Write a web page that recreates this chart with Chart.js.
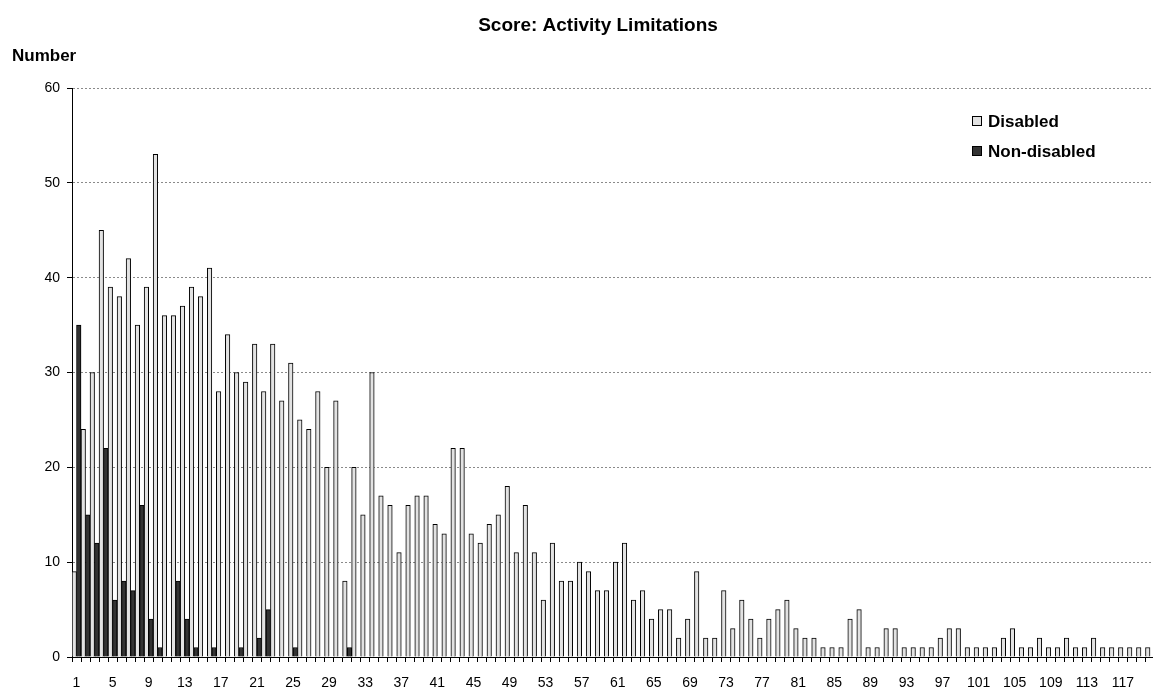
<!DOCTYPE html>
<html>
<head>
<meta charset="utf-8">
<title>Score: Activity Limitations</title>
<script src="https://cdn.jsdelivr.net/npm/chart.js@4.4.0/dist/chart.umd.min.js"></script>
<style>
  html, body { margin: 0; padding: 0; background: #fff; overflow: hidden; }
  #wrap { position: relative; width: 1163px; height: 691px; }
</style>
</head>
<body>
<div id="wrap"><canvas id="ScoreChart"></canvas></div>
<script>
const scores = [
  1, 2, 3, 4, 5, 6, 7, 8, 9, 10, 11, 12, 13, 14, 15, 16, 17, 18, 19, 20,
  21, 22, 23, 24, 25, 26, 27, 28, 29, 30, 31, 32, 33, 34, 35, 36, 37, 38, 39, 40,
  41, 42, 43, 44, 45, 46, 47, 48, 49, 50, 51, 52, 53, 54, 55, 56, 57, 58, 59, 60,
  61, 62, 63, 64, 65, 66, 67, 68, 69, 70, 71, 72, 73, 74, 75, 76, 77, 78, 79, 80,
  81, 82, 83, 84, 85, 86, 87, 88, 89, 90, 91, 92, 93, 94, 95, 96, 97, 98, 99, 100,
  101, 102, 103, 104, 105, 106, 107, 108, 109, 110, 111, 112, 113, 114, 115, 116, 117, 118, 119, 120
];

const tickLabels = ['1', '5', '9', '13', '17', '21', '25', '29', '33', '37', '41', '45', '49', '53', '57',
  '61', '65', '69', '73', '77', '81', '85', '89', '93', '97', '101', '105', '109', '113', '117'];

const disabled = [
  9, 24, 30, 45, 39, 38, 42, 35, 39, 53,
  36, 36, 37, 39, 38, 41, 28, 34, 30, 29,
  33, 28, 33, 27, 31, 25, 24, 28, 20, 27,
  8, 20, 15, 30, 17, 16, 11, 16, 17, 17,
  14, 13, 22, 22, 13, 12, 14, 15, 18, 11,
  16, 11, 6, 12, 8, 8, 10, 9, 7, 7,
  10, 12, 6, 7, 4, 5, 5, 2, 4, 9,
  2, 2, 7, 3, 6, 4, 2, 4, 5, 6,
  3, 2, 2, 1, 1, 1, 4, 5, 1, 1,
  3, 3, 1, 1, 1, 1, 2, 3, 3, 1,
  1, 1, 1, 2, 3, 1, 1, 2, 1, 1,
  2, 1, 1, 2, 1, 1, 1, 1, 1, 1
];

const nonDisabled = [
  35, 15, 12, 22, 6, 8, 7, 16, 4, 1,
  0, 8, 4, 1, 0, 1, 0, 0, 1, 0,
  2, 5, 0, 0, 1, 0, 0, 0, 0, 0,
  1, 0, 0, 0, 0, 0, 0, 0, 0, 0,
  0, 0, 0, 0, 0, 0, 0, 0, 0, 0,
  0, 0, 0, 0, 0, 0, 0, 0, 0, 0,
  0, 0, 0, 0, 0, 0, 0, 0, 0, 0,
  0, 0, 0, 0, 0, 0, 0, 0, 0, 0,
  0, 0, 0, 0, 0, 0, 0, 0, 0, 0,
  0, 0, 0, 0, 0, 0, 0, 0, 0, 0,
  0, 0, 0, 0, 0, 0, 0, 0, 0, 0,
  0, 0, 0, 0, 0, 0, 0, 0, 0, 0
];

const FONT = "'Liberation Sans', Arial, sans-serif";

// title, the "Number" caption and the legend sit where the spreadsheet put them
const chartText = {
  id: 'chartText',
  afterDraw(chart) {
    const ctx = chart.ctx;
    ctx.save();
    ctx.fillStyle = '#000';
    ctx.textBaseline = 'middle';

    ctx.font = 'bold 19px ' + FONT;
    ctx.textAlign = 'center';
    ctx.fillText('Score: Activity Limitations', 598, 26);

    ctx.textAlign = 'left';
    ctx.font = 'bold 17px ' + FONT;
    ctx.fillText('Number', 12, 56);

    ctx.font = 'bold 17px ' + FONT;
    ctx.lineWidth = 1;
    chart.data.datasets.forEach((ds, i) => {
      const y = 121 + i * 30;
      ctx.fillStyle = ds.backgroundColor;
      ctx.fillRect(972.5, y - 4.5, 9, 9);
      ctx.strokeStyle = '#000';
      ctx.strokeRect(972.5, y - 4.5, 9, 9);
      ctx.fillStyle = '#000';
      ctx.fillText(ds.label, 988, y + 1);
    });
    ctx.restore();
  }
};

const ctx = document.getElementById('ScoreChart').getContext('2d');

new Chart(ctx, {
  type: 'bar',
  data: {
    labels: scores,
    datasets: [
      {
        label: 'Disabled',
        data: disabled,
        backgroundColor: '#e2e2e2',
        borderColor: '#000',
        borderWidth: 1,
        categoryPercentage: 1,
        barPercentage: 1
      },
      {
        label: 'Non-disabled',
        data: nonDisabled,
        backgroundColor: '#333333',
        borderColor: '#000',
        borderWidth: 1,
        categoryPercentage: 1,
        barPercentage: 1
      }
    ]
  },
  options: {
    responsive: true,
    maintainAspectRatio: false,
    animation: false,
    layout: { padding: { top: 88, left: 0, right: 0, bottom: 0 } },
    plugins: {
      legend: { display: false },
      title: { display: false },
      tooltip: { enabled: false }
    },
    scales: {
      x: {
        grid: {
          display: true,
          drawOnChartArea: false,
          drawTicks: true,
          tickLength: 5,
          offset: true,
          tickColor: '#000'
        },
        border: { color: '#000', width: 1 },
        ticks: {
          autoSkip: false,
          maxRotation: 0,
          padding: 13,
          color: '#000',
          font: { family: FONT, size: 14 },
          callback: function (value) {
            const l = String(this.getLabelForValue(value));
            return tickLabels.includes(l) ? l : '';
          }
        },
        afterFit: (scale) => { scale.height = 34; }
      },
      y: {
        min: 0,
        max: 60,
        ticks: {
          stepSize: 10,
          padding: 7,
          color: '#000',
          font: { family: FONT, size: 14 }
        },
        grid: { color: '#8a8a8a', tickColor: '#000', tickLength: 5 },
        border: { color: '#000', width: 1, dash: [2, 2] },
        afterFit: (scale) => { scale.width = 72; }
      }
    }
  },
  plugins: [chartText]
});
</script>
</body>
</html>
